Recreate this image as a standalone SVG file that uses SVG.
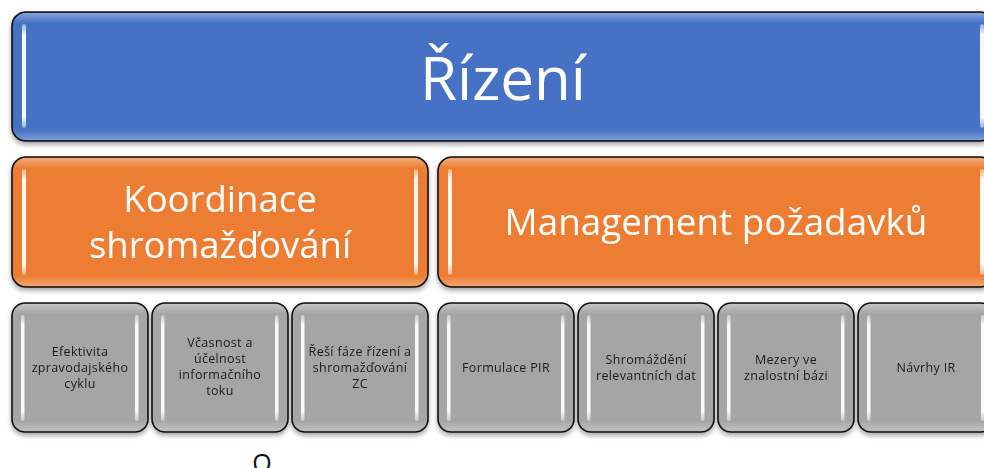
<svg xmlns="http://www.w3.org/2000/svg" width="984" height="468" viewBox="0 0 984 468">
<defs>
<linearGradient id="edgeV" x1="0" y1="0" x2="0" y2="1">
<stop offset="0" stop-color="#fff" stop-opacity="0.35"/>
<stop offset="0.08" stop-color="#fff" stop-opacity="0"/>
<stop offset="0.92" stop-color="#fff" stop-opacity="0"/>
<stop offset="1" stop-color="#fff" stop-opacity="0.3"/>
</linearGradient>
<linearGradient id="bar" x1="0" y1="0" x2="0" y2="1">
<stop offset="0" stop-color="#fff" stop-opacity="0.4"/>
<stop offset="0.1" stop-color="#fff" stop-opacity="0.95"/>
<stop offset="0.9" stop-color="#fff" stop-opacity="0.95"/>
<stop offset="1" stop-color="#fff" stop-opacity="0.4"/>
</linearGradient>
<filter id="sh" x="-5%" y="-5%" width="110%" height="120%">
<feGaussianBlur in="SourceAlpha" stdDeviation="2.5"/>
<feOffset dy="3"/>
<feComponentTransfer><feFuncA type="linear" slope="0.35"/></feComponentTransfer>
<feMerge><feMergeNode/><feMergeNode in="SourceGraphic"/></feMerge>
</filter>
</defs>
<style>
.box{stroke:#111;stroke-width:1.6;}
.blue{fill:#4472C4;}
.orange{fill:#ED7D31;}
.grey{fill:#A5A5A5;}
.gl{fill:url(#edgeV);stroke:none;}
.bar{fill:url(#bar);}
.big{font-family:"Open Sans","Noto Sans",sans-serif;fill:#fff;text-anchor:middle;}
.small{font-family:"Open Sans","Noto Sans",sans-serif;font-size:12.5px;letter-spacing:0.35px;fill:#1a1a1a;text-anchor:middle;}
</style>
<rect width="984" height="468" fill="#fff"/>

<g id="rizeni" filter="url(#sh)">
<rect class="box blue" x="12" y="12" width="982" height="129" rx="14"/>
<rect class="gl" x="13" y="13" width="980" height="127" rx="13"/>
<rect class="bar" x="22" y="24" width="4" height="104" rx="2"/>
<rect class="bar" x="980" y="24" width="4" height="104" rx="2"/>
<text class="big" x="503" y="100" font-size="60">Řízení</text>
</g>

<g id="koordinace" filter="url(#sh)">
<rect class="box orange" x="12" y="157" width="416" height="130" rx="14"/>
<rect class="gl" x="13" y="158" width="414" height="128" rx="13"/>
<rect class="bar" x="22" y="169" width="4" height="106" rx="2"/>
<rect class="bar" x="414" y="169" width="4" height="106" rx="2"/>
<text class="big" x="220" y="212" font-size="36.5">Koordinace</text>
<text class="big" x="220" y="258" font-size="36.5">shromažďování</text>
</g>

<g id="management" filter="url(#sh)">
<rect class="box orange" x="438" y="157" width="556" height="130" rx="14"/>
<rect class="gl" x="439" y="158" width="554" height="128" rx="13"/>
<rect class="bar" x="448" y="169" width="4" height="106" rx="2"/>
<rect class="bar" x="980" y="169" width="4" height="106" rx="2"/>
<text class="big" x="716" y="235" font-size="36.8">Management požadavků</text>
</g>

<g id="g1" filter="url(#sh)">
<rect class="box grey" x="12" y="303" width="136" height="129" rx="13"/>
<rect class="gl" x="13" y="304" width="134" height="127" rx="12"/>
<rect class="bar" x="21" y="315" width="3.5" height="106" rx="1.7"/>
<rect class="bar" x="135" y="315" width="3.5" height="106" rx="1.7"/>
<text class="small" x="80" y="356">Efektivita</text>
<text class="small" x="80" y="372">zpravodajského</text>
<text class="small" x="80" y="388">cyklu</text>
</g>

<g id="g2" filter="url(#sh)">
<rect class="box grey" x="152" y="303" width="136" height="129" rx="13"/>
<rect class="gl" x="153" y="304" width="134" height="127" rx="12"/>
<rect class="bar" x="161" y="315" width="3.5" height="106" rx="1.7"/>
<rect class="bar" x="275" y="315" width="3.5" height="106" rx="1.7"/>
<text class="small" x="220" y="347">Včasnost a</text>
<text class="small" x="220" y="363">účelnost</text>
<text class="small" x="220" y="379">informačního</text>
<text class="small" x="220" y="395">toku</text>
</g>

<g id="g3" filter="url(#sh)">
<rect class="box grey" x="292" y="303" width="136" height="129" rx="13"/>
<rect class="gl" x="293" y="304" width="134" height="127" rx="12"/>
<rect class="bar" x="301" y="315" width="3.5" height="106" rx="1.7"/>
<rect class="bar" x="415" y="315" width="3.5" height="106" rx="1.7"/>
<text class="small" x="360" y="356">Řeší fáze řízení a</text>
<text class="small" x="360" y="372">shromažďování</text>
<text class="small" x="360" y="388">ZC</text>
</g>

<g id="g4" filter="url(#sh)">
<rect class="box grey" x="438" y="303" width="136" height="129" rx="13"/>
<rect class="gl" x="439" y="304" width="134" height="127" rx="12"/>
<rect class="bar" x="447" y="315" width="3.5" height="106" rx="1.7"/>
<rect class="bar" x="561" y="315" width="3.5" height="106" rx="1.7"/>
<text class="small" x="506" y="372">Formulace PIR</text>
</g>

<g id="g5" filter="url(#sh)">
<rect class="box grey" x="578" y="303" width="136" height="129" rx="13"/>
<rect class="gl" x="579" y="304" width="134" height="127" rx="12"/>
<rect class="bar" x="587" y="315" width="3.5" height="106" rx="1.7"/>
<rect class="bar" x="701" y="315" width="3.5" height="106" rx="1.7"/>
<text class="small" x="646" y="364">Shromáždění</text>
<text class="small" x="646" y="380">relevantních dat</text>
</g>

<g id="g6" filter="url(#sh)">
<rect class="box grey" x="718" y="303" width="136" height="129" rx="13"/>
<rect class="gl" x="719" y="304" width="134" height="127" rx="12"/>
<rect class="bar" x="727" y="315" width="3.5" height="106" rx="1.7"/>
<rect class="bar" x="841" y="315" width="3.5" height="106" rx="1.7"/>
<text class="small" x="786" y="364">Mezery ve</text>
<text class="small" x="786" y="380">znalostní bázi</text>
</g>

<g id="g7" filter="url(#sh)">
<rect class="box grey" x="858" y="303" width="136" height="129" rx="13"/>
<rect class="gl" x="859" y="304" width="134" height="127" rx="12"/>
<rect class="bar" x="867" y="315" width="3.5" height="106" rx="1.7"/>
<rect class="bar" x="981" y="315" width="3.5" height="106" rx="1.7"/>
<text class="small" x="926" y="372">Návrhy IR</text>
</g>

<g id="connectors"></g>

<text x="262" y="472" font-family="Open Sans, sans-serif" font-size="25" fill="#111" text-anchor="middle">O</text>
</svg>
